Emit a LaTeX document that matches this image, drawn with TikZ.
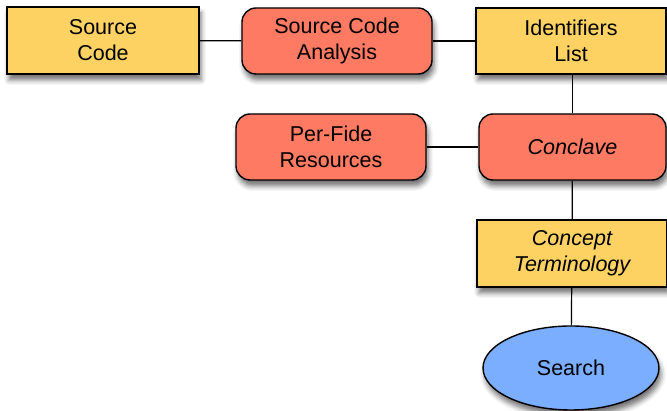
\documentclass[tikz,border=0pt]{standalone}
\usepackage{fontspec}
\setmainfont{Liberation Sans}
\usetikzlibrary{shapes.geometric,shadows.blur}
\definecolor{boxyellow}{HTML}{FDD263}
\definecolor{boxred}{HTML}{FF7A62}
\definecolor{boxblue}{HTML}{7BAEFF}
\tikzset{
  base/.style={draw=black, line width=1.4pt, align=center, font=\fontsize{21.5}{26}\selectfont,
    blur shadow={shadow xshift=2pt, shadow yshift=-6pt, shadow blur radius=5pt, shadow opacity=55}},
  ybox/.style={base, fill=boxyellow, rectangle, minimum width=190pt, minimum height=66pt, inner sep=0pt},
  rbox/.style={base, fill=boxred, rectangle, rounded corners=14pt, minimum width=190pt, minimum height=66pt, inner sep=0pt},
  ell/.style={base, fill=boxblue, ellipse, minimum width=176pt, minimum height=84pt, inner sep=0pt},
  conn/.style={draw=black, line width=1.2pt}
}
\begin{document}
\begin{tikzpicture}[x=1pt,y=1pt]
\useasboundingbox (0,0) rectangle (667,411);
\node[ybox, minimum width=192pt, minimum height=67pt] (sc) at (103,370.5) {Source\\Code};
\node[rbox] (sca) at (337,370) {Source Code\\Analysis};
\node[ybox] (idl) at (571,370) {Identifiers\\List};
\node[rbox] (pfr) at (331,264) {Per-Fide\\Resources};
\node[rbox, minimum width=187pt] (conc) at (572.5,264) {\itshape Conclave};
\node[ybox, minimum width=190pt, minimum height=67pt] (ct) at (572,157.5) {\itshape Concept\\\itshape Terminology};
\node[ell] (search) at (571,43) {Search};
\draw[conn] (sc) -- (sca);
\draw[conn] (sca) -- (idl);
\draw[conn] (idl.south -| conc.north) -- (conc.north);
\draw[conn] (pfr) -- (conc);
\draw[conn] (conc) -- (ct);
\draw[conn] (ct) -- (search);
\end{tikzpicture}
\end{document}
